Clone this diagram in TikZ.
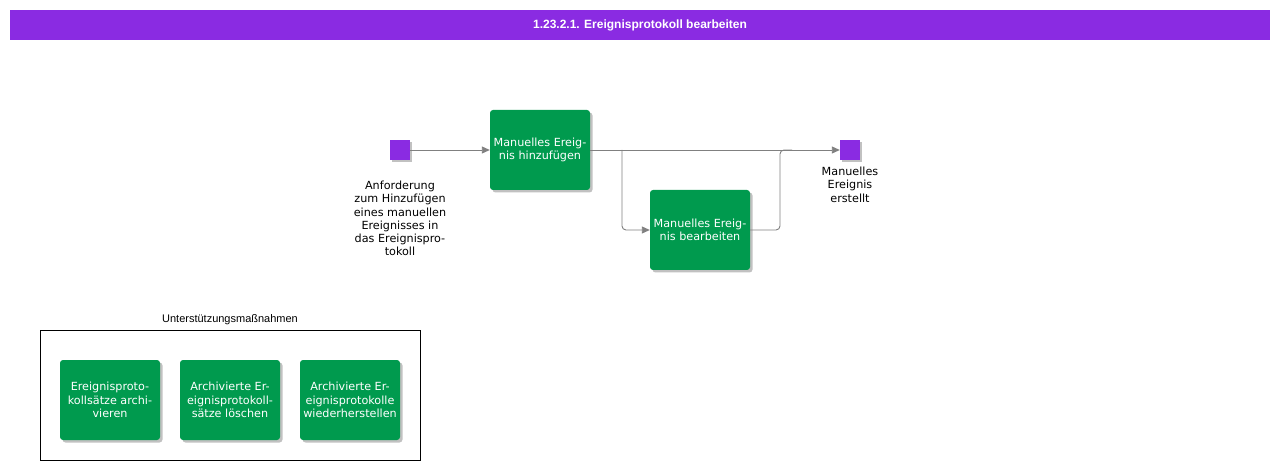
\documentclass[tikz,border=0pt]{standalone}
\usepackage{fontspec}
\setmainfont{DejaVu Sans}
\newfontfamily\titlefont{Liberation Sans}
\usetikzlibrary{shadows,arrows.meta}
\definecolor{grn}{HTML}{009A4E}
\definecolor{purp}{HTML}{8A2BE2}
\definecolor{lin}{HTML}{808080}
\tikzset{
  x=1pt,y=-1pt,
  task/.style={fill=grn,draw=none,rounded corners=3pt,minimum width=100pt,minimum height=80pt,
    text=white,align=center,font=\fontsize{11.2}{13.5}\selectfont,inner sep=0pt,
    drop shadow={shadow xshift=2.5pt,shadow yshift=-2.5pt,fill=black!40,opacity=0.6}},
  evt/.style={fill=purp,draw=none,minimum size=20pt,inner sep=0pt,
    drop shadow={shadow xshift=2pt,shadow yshift=-2pt,fill=black!40,opacity=0.6}},
  lbl/.style={align=center,font=\fontsize{11.2}{13.2}\selectfont,inner sep=0pt,anchor=north},
  conn/.style={draw=lin,line width=0.9pt,-{Triangle[length=8pt,width=7pt]}},
  connn/.style={draw=lin,line width=0.9pt},
}
\begin{document}
\begin{tikzpicture}
\useasboundingbox (0,0) rectangle (1280,470);
\fill[white] (0,0) rectangle (1280,470);
\node[fill=purp,minimum width=1260pt,minimum height=30pt,inner sep=0pt,text=white,
  font=\titlefont\bfseries\fontsize{12}{14}\selectfont] (title) at (640,25) {1.23.2.1. Ereignisprotokoll bearbeiten};

\node[evt] (start) at (400,150) {};
\node[task] (t1) at (540,150) {Manuelles Ereig-\\nis hinzufügen};
\node[task] (t2) at (700,230) {Manuelles Ereig-\\nis bearbeiten};
\node[evt] (end) at (850,150) {};
\node[lbl] (startlbl) at (400,181) {Anforderung\\zum Hinzufügen\\eines manuellen\\Ereignisses in\\das Ereignispro-\\tokoll};
\node[lbl] (endlbl) at (850,167) {Manuelles\\Ereignis\\erstellt};

\coordinate (split) at (622,150);
\coordinate (join) at (780,150);
\coordinate (joinend) at (792,150);
\draw[conn] (start) -- (t1);
\draw[conn] (t1) -- (end);
\draw[conn,rounded corners=4pt] (split) |- (t2.west);
\draw[connn,rounded corners=4pt] (t2.east) -| (join) -- (joinend);

\node[draw=black,line width=0.8pt,minimum width=380pt,minimum height=130pt,inner sep=0pt] (grp) at (230,395) {};
\node[font=\titlefont\fontsize{11}{13}\selectfont,inner sep=0pt] (grplbl) at (230,320) {Unterstützungsmaßnahmen};
\node[task] (s1) at (110,400) {Ereignisproto-\\kollsätze archi-\\vieren};
\node[task] (s2) at (230,400) {Archivierte Er-\\eignisprotokoll-\\sätze löschen};
\node[task] (s3) at (350,400) {Archivierte Er-\\eignisprotokolle\\wiederherstellen};
\end{tikzpicture}
\end{document}
